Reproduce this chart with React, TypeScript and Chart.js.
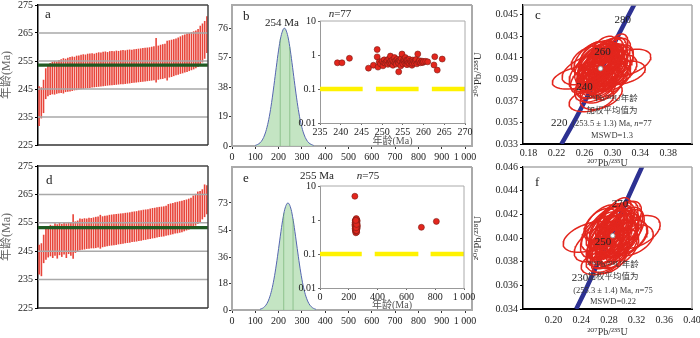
import React, { useEffect, useRef } from 'react';
import { Chart, registerables } from 'chart.js';

Chart.register(...registerables);

const FONT = '"Liberation Serif", "DejaVu Serif", "Noto Sans CJK SC", serif';
Chart.defaults.font.family = FONT;
Chart.defaults.color = '#222';

// ---------------- data ----------------
const ageTicks = [225, 235, 245, 255, 265, 275];
const ageGrid = [235, 245, 255, 265];

const aLow = [231.8, 234.5, 236.4, 241.4, 242.4, 242.9, 243.1, 243.0, 243.3, 243.5, 243.6, 243.4, 243.9, 244.0, 244.1, 244.3, 244.5, 244.6, 244.8, 244.9, 245.0, 245.2, 245.3, 245.4, 245.5, 245.6, 245.7, 245.8, 245.9, 246.0, 246.1, 246.2, 246.3, 246.3, 246.4, 246.5, 246.6, 246.7, 246.7, 246.8, 246.9, 247.0, 247.1, 247.2, 247.3, 247.4, 247.5, 247.6, 247.7, 247.8, 247.9, 248.0, 248.1, 247.3, 248.3, 248.5, 248.6, 248.8, 248.0, 249.1, 249.3, 249.6, 249.9, 250.1, 250.4, 250.6, 250.9, 251.1, 251.4, 251.7, 252.0, 252.4, 252.9, 253.6, 254.5, 255.8, 257.9];
const aHigh = [246.0, 245.6, 248.3, 252.4, 253.8, 254.3, 254.7, 255.0, 254.8, 255.4, 255.6, 256.0, 255.8, 256.2, 256.4, 256.6, 256.5, 256.9, 257.0, 257.2, 257.4, 257.3, 257.6, 257.7, 257.8, 257.6, 257.9, 258.1, 258.0, 258.3, 258.4, 258.2, 258.5, 258.6, 258.5, 258.7, 258.6, 258.8, 258.9, 258.8, 259.0, 259.1, 259.0, 259.2, 259.3, 259.4, 259.5, 259.6, 259.7, 259.8, 259.9, 260.1, 260.3, 263.2, 260.5, 260.8, 261.0, 261.2, 262.2, 262.4, 262.6, 262.8, 263.0, 263.4, 263.8, 264.2, 264.5, 264.8, 265.0, 265.3, 265.6, 265.9, 266.4, 267.6, 268.4, 269.3, 271.0];
const aMean = 253.5;

const dLow = [236.8, 236.2, 240.8, 242.0, 242.8, 243.2, 242.6, 243.4, 242.4, 243.6, 243.0, 243.8, 242.6, 244.0, 243.4, 242.3, 244.4, 244.8, 245.3, 245.5, 245.6, 245.8, 245.9, 246.0, 246.0, 246.1, 246.3, 245.9, 246.4, 246.6, 246.7, 246.9, 247.0, 247.1, 247.2, 247.4, 247.5, 247.6, 247.8, 247.9, 248.0, 248.2, 248.3, 248.4, 248.6, 248.7, 248.9, 249.0, 249.2, 249.3, 249.5, 249.6, 249.8, 250.0, 250.1, 250.2, 250.4, 250.6, 250.8, 251.0, 251.2, 251.3, 251.5, 251.7, 252.0, 252.3, 252.6, 253.0, 253.5, 254.0, 254.6, 255.3, 256.2, 257.0, 258.0];
const dHigh = [247.3, 247.8, 250.8, 252.8, 253.8, 254.3, 254.0, 254.8, 254.5, 255.0, 254.6, 255.2, 254.8, 255.3, 255.0, 258.0, 255.5, 255.8, 256.5, 256.4, 256.6, 256.5, 256.8, 256.7, 256.9, 257.1, 257.2, 257.8, 257.3, 257.5, 257.6, 257.8, 257.9, 258.0, 258.1, 258.2, 258.3, 258.4, 258.5, 258.6, 258.7, 258.9, 259.0, 259.1, 259.3, 259.4, 259.6, 259.7, 259.8, 260.0, 260.2, 260.3, 260.5, 260.6, 260.7, 260.8, 261.0, 261.6, 261.8, 262.0, 262.2, 262.4, 262.6, 262.8, 263.0, 263.2, 263.5, 263.8, 264.6, 265.2, 266.0, 266.2, 266.8, 268.5, 268.2];
const dMean = 253.3;

const distXTicks = [0, 100, 200, 300, 400, 500, 600, 700, 800, 900, 1000];
const bYTicks = [0, 19, 38, 57, 76];
const eYTicks = [0, 18, 36, 54, 73];
const bGaussX = [100, 110, 120, 130, 140, 150, 160, 170, 180, 190, 200, 210, 220, 225, 230, 240, 250, 260, 270, 280, 290, 300, 310, 320, 330, 340, 350];
const bGaussY = [0.4, 1.0, 2.0, 3.9, 7.1, 12.0, 18.9, 28.1, 39.1, 50.8, 61.9, 70.6, 75.4, 76.0, 75.4, 70.6, 61.9, 50.8, 39.1, 28.1, 18.9, 12.0, 7.1, 3.9, 2.0, 1.0, 0.4];
const bInner = [[207, 69], [248, 64]];
const eGaussX = [120, 130, 140, 150, 160, 170, 180, 190, 200, 210, 220, 230, 240, 250, 260, 270, 280, 290, 300, 310, 320, 330, 340, 350, 360];
const eGaussY = [0.5, 1.1, 2.3, 4.4, 8.0, 13.4, 21.0, 30.7, 41.9, 53.4, 63.6, 70.5, 73.0, 70.5, 63.6, 53.4, 41.9, 30.7, 21.0, 13.4, 8.0, 4.4, 2.3, 1.1, 0.5];
const eInner = [[222, 66], [262, 62]];

const logTicks = [0.01, 0.1, 1, 10];
const bInsetXTicks = [235, 240, 245, 250, 255, 260, 265, 270];
const bYellow = [[235, 245.3], [248.5, 258.8], [262.0, 270]];
const bPoints = [
  [239.2, 0.59], [240.3, 0.59], [242.1, 0.80], [246.7, 0.41], [247.9, 0.50], [248.8, 1.45], [248.8, 0.88], [249.0, 0.44], [249.3, 0.62], [249.6, 0.55],
  [250.0, 0.66], [250.2, 0.48], [250.4, 0.60], [250.5, 0.72], [250.7, 0.58], [251.0, 0.63], [251.2, 0.69], [251.4, 0.53], [251.6, 0.76], [251.8, 0.60],
  [251.9, 0.57], [252.0, 0.93], [252.1, 0.66], [252.3, 0.56], [252.5, 0.71], [252.6, 0.50], [252.8, 0.64], [253.0, 0.84], [253.1, 0.59], [253.3, 0.68],
  [253.4, 0.54], [253.6, 0.74], [253.8, 0.62], [253.9, 0.66], [254.0, 0.32], [254.0, 0.57], [254.2, 0.70], [254.4, 0.65], [254.5, 0.48], [254.6, 0.80],
  [254.8, 1.07], [254.9, 0.61], [255.0, 0.55], [255.2, 0.73], [255.3, 0.66], [255.5, 0.58], [255.6, 0.84], [255.8, 0.63], [255.9, 0.71], [256.0, 0.52],
  [256.1, 0.69], [256.3, 0.60], [256.5, 0.75], [256.6, 0.56], [256.8, 0.66], [257.0, 0.61], [257.2, 0.50], [257.3, 0.57], [257.4, 0.71], [257.6, 0.64],
  [257.8, 0.58], [258.0, 0.67], [258.2, 0.74], [258.4, 0.55], [258.6, 1.07], [258.8, 0.62], [259.0, 0.68], [259.3, 0.59], [259.6, 0.66], [259.8, 0.60],
  [260.0, 0.64], [260.5, 0.65], [261.0, 0.63], [262.5, 0.51], [262.7, 0.89], [263.3, 0.36], [264.5, 0.76],
];
const eInsetXTicks = [0, 200, 400, 600, 800, 1000];
const eYellow = [[0, 290], [380, 683], [768, 1000]];
const ePoints = [
  [248, 0.45], [252, 0.47], [246, 0.50], [255, 0.52], [250, 0.55], [244, 0.56], [258, 0.58], [249, 0.60], [253, 0.61], [247, 0.62],
  [256, 0.64], [251, 0.65], [245, 0.66], [254, 0.68], [249, 0.69], [259, 0.70], [252, 0.72], [243, 0.73], [250, 0.74], [255, 0.76],
  [248, 0.77], [253, 0.78], [246, 0.80], [257, 0.81], [251, 0.82], [244, 0.84], [254, 0.85], [249, 0.86], [252, 0.88], [247, 0.89],
  [256, 0.90], [250, 0.92], [253, 0.93], [245, 0.95], [258, 0.96], [251, 0.98], [248, 1.00], [254, 1.02], [250, 1.05], [252, 1.10],
  [249, 0.42], [255, 0.44], [251, 0.48], [246, 0.53], [253, 0.57], [257, 0.63], [244, 0.67], [250, 0.71], [252, 0.79], [248, 0.83],
  [254, 0.87], [247, 0.94], [251, 1.01], [256, 0.58], [249, 0.51], [253, 0.66], [245, 0.75], [250, 0.61], [252, 0.54], [248, 0.70],
  [254, 0.63], [251, 0.76], [247, 0.57], [255, 0.68], [250, 0.82], [253, 0.49], [249, 0.91], [252, 0.64], [246, 0.86], [251, 0.59],
  [254, 0.74], [249, 0.97], [242, 5.0], [704, 0.61], [808, 0.91],
];

const cXTicks = [0.18, 0.22, 0.26, 0.30, 0.34, 0.38];
const cYTicks = [0.033, 0.035, 0.037, 0.039, 0.041, 0.043, 0.045];
const cConcX = [0.2270, 0.2420, 0.2680, 0.2930, 0.3180, 0.3440];
const cConcY = [0.0330, 0.0347, 0.0379, 0.0411, 0.0443, 0.0475];
const cAgeLabels = [[220, 0.2238, 0.03494], [240, 0.2599, 0.03826], [260, 0.2859, 0.04149], [280, 0.3147, 0.04454]];
const cMean = [0.283, 0.0400];
// [centre x, centre y, half-width x, half-height y, correlation]
const cEllipses = [
  [0.252, 0.0392, 0.038, 0.0011, 0.45], [0.262, 0.0399, 0.034, 0.0014, 0.5], [0.270, 0.0371, 0.032, 0.0011, 0.35], [0.284, 0.0375, 0.030, 0.0013, 0.4],
  [0.318, 0.0405, 0.037, 0.0013, 0.45], [0.314, 0.0396, 0.033, 0.0011, 0.35], [0.302, 0.0414, 0.020, 0.0018, 0.6], [0.296, 0.0412, 0.024, 0.0017, 0.5],
  [0.266, 0.0408, 0.025, 0.0013, 0.4], [0.276, 0.0396, 0.022, 0.0017, 0.55], [0.280, 0.0402, 0.025, 0.0019, 0.6], [0.288, 0.0404, 0.022, 0.0016, 0.5],
  [0.285, 0.0398, 0.028, 0.0015, 0.45], [0.292, 0.0401, 0.026, 0.0017, 0.5], [0.278, 0.0405, 0.021, 0.0015, 0.55], [0.290, 0.0395, 0.020, 0.0014, 0.5],
  [0.282, 0.0392, 0.024, 0.0014, 0.5], [0.298, 0.0400, 0.023, 0.0016, 0.55], [0.274, 0.0386, 0.026, 0.0014, 0.45], [0.286, 0.0410, 0.022, 0.0015, 0.5],
  [0.300, 0.0392, 0.026, 0.0013, 0.4], [0.270, 0.0402, 0.020, 0.0016, 0.55], [0.294, 0.0385, 0.022, 0.0014, 0.5], [0.283, 0.0401, 0.018, 0.0020, 0.6],
  [0.306, 0.0406, 0.024, 0.0016, 0.5], [0.262, 0.0390, 0.022, 0.0013, 0.45], [0.279, 0.0380, 0.025, 0.0012, 0.4], [0.288, 0.0418, 0.018, 0.0012, 0.45],
  [0.296, 0.0395, 0.030, 0.0015, 0.5], [0.275, 0.0412, 0.020, 0.0013, 0.4], [0.284, 0.0399, 0.021, 0.0017, 0.55], [0.289, 0.0407, 0.020, 0.0015, 0.5],
  [0.277, 0.0393, 0.019, 0.0016, 0.55], [0.293, 0.0409, 0.021, 0.0014, 0.45], [0.281, 0.0405, 0.024, 0.0018, 0.6], [0.287, 0.0391, 0.023, 0.0015, 0.5],
  [0.272, 0.0397, 0.023, 0.0015, 0.5], [0.298, 0.0407, 0.019, 0.0014, 0.5], [0.280, 0.0400, 0.030, 0.0021, 0.6], [0.290, 0.0403, 0.032, 0.0020, 0.55],
  [0.274, 0.0404, 0.028, 0.0019, 0.55], [0.296, 0.0398, 0.030, 0.0019, 0.5], [0.285, 0.0395, 0.034, 0.0018, 0.5], [0.288, 0.0410, 0.028, 0.0018, 0.55],
  [0.278, 0.0390, 0.030, 0.0017, 0.5], [0.302, 0.0402, 0.028, 0.0018, 0.55], [0.268, 0.0397, 0.030, 0.0018, 0.5], [0.292, 0.0393, 0.026, 0.0019, 0.6],
  [0.283, 0.0407, 0.032, 0.0017, 0.5], [0.276, 0.0384, 0.030, 0.0015, 0.45], [0.300, 0.0411, 0.026, 0.0017, 0.55], [0.286, 0.0401, 0.036, 0.0016, 0.45],
  [0.271, 0.0409, 0.026, 0.0016, 0.5], [0.294, 0.0389, 0.028, 0.0016, 0.5], [0.281, 0.0396, 0.026, 0.0021, 0.6], [0.289, 0.0399, 0.024, 0.0022, 0.65],
  [0.279, 0.0411, 0.027, 0.0015, 0.5], [0.305, 0.0398, 0.030, 0.0015, 0.45],
];

const fXTicks = [0.20, 0.24, 0.28, 0.32, 0.36, 0.40];
const fYTicks = [0.034, 0.036, 0.038, 0.040, 0.042, 0.044, 0.046];
const fConcX = [0.2328, 0.2455, 0.2705, 0.2960, 0.3215, 0.3350];
const fConcY = [0.0340, 0.0355, 0.0387, 0.0419, 0.0452, 0.0469];
const fAgeLabels = [[230, 0.2383, 0.03663], [250, 0.2715, 0.03968], [270, 0.2960, 0.0429]];
const fMean = [0.2855, 0.0402];
const fEllipses = [
  [0.252, 0.0401, 0.038, 0.0013, 0.45], [0.262, 0.0395, 0.032, 0.0015, 0.5], [0.320, 0.0405, 0.034, 0.0014, 0.45], [0.314, 0.0398, 0.030, 0.0013, 0.4],
  [0.268, 0.0379, 0.028, 0.0010, 0.35], [0.280, 0.0382, 0.025, 0.0012, 0.4], [0.292, 0.0420, 0.020, 0.0014, 0.55], [0.300, 0.0416, 0.022, 0.0015, 0.5],
  [0.268, 0.0411, 0.024, 0.0014, 0.45], [0.284, 0.0404, 0.022, 0.0019, 0.6], [0.278, 0.0398, 0.024, 0.0017, 0.55], [0.290, 0.0407, 0.023, 0.0017, 0.55],
  [0.296, 0.0400, 0.025, 0.0016, 0.5], [0.274, 0.0406, 0.022, 0.0016, 0.5], [0.286, 0.0394, 0.024, 0.0015, 0.5], [0.282, 0.0412, 0.021, 0.0015, 0.5],
  [0.300, 0.0404, 0.023, 0.0017, 0.55], [0.272, 0.0392, 0.025, 0.0015, 0.45], [0.288, 0.0388, 0.022, 0.0014, 0.5], [0.305, 0.0410, 0.024, 0.0016, 0.5],
  [0.262, 0.0403, 0.022, 0.0014, 0.45], [0.293, 0.0413, 0.020, 0.0015, 0.55], [0.279, 0.0401, 0.019, 0.0018, 0.6], [0.287, 0.0399, 0.026, 0.0016, 0.5],
  [0.297, 0.0394, 0.024, 0.0014, 0.45], [0.276, 0.0387, 0.023, 0.0013, 0.45], [0.283, 0.0416, 0.020, 0.0013, 0.5], [0.309, 0.0401, 0.026, 0.0014, 0.45],
  [0.270, 0.0398, 0.021, 0.0016, 0.55], [0.291, 0.0402, 0.021, 0.0018, 0.6], [0.285, 0.0408, 0.022, 0.0016, 0.55], [0.281, 0.0395, 0.020, 0.0016, 0.55],
  [0.282, 0.0403, 0.030, 0.0021, 0.6], [0.291, 0.0405, 0.032, 0.0020, 0.55], [0.275, 0.0408, 0.028, 0.0018, 0.55], [0.297, 0.0402, 0.030, 0.0019, 0.5],
  [0.286, 0.0397, 0.034, 0.0018, 0.5], [0.289, 0.0413, 0.028, 0.0017, 0.55], [0.279, 0.0392, 0.030, 0.0017, 0.5], [0.303, 0.0406, 0.028, 0.0018, 0.55],
  [0.269, 0.0401, 0.030, 0.0018, 0.5], [0.293, 0.0396, 0.026, 0.0019, 0.6], [0.284, 0.0410, 0.032, 0.0017, 0.5], [0.277, 0.0386, 0.030, 0.0015, 0.45],
  [0.301, 0.0414, 0.026, 0.0017, 0.55], [0.287, 0.0404, 0.036, 0.0016, 0.45], [0.272, 0.0413, 0.026, 0.0015, 0.5], [0.295, 0.0391, 0.028, 0.0016, 0.5],
  [0.282, 0.0399, 0.026, 0.0021, 0.6], [0.290, 0.0401, 0.024, 0.0022, 0.65], [0.306, 0.0400, 0.030, 0.0015, 0.45],
];

// ---------------- helpers ----------------
type Part = { t: string; i?: boolean };
type Label = { x: number; y: number; parts: Part[]; size: number; color?: string; align?: 'left' | 'center' };

function drawLabel(ctx: CanvasRenderingContext2D, L: Label) {
  const f = (p: Part) => `${p.i ? 'italic ' : ''}${L.size}px ${FONT}`;
  ctx.textBaseline = 'middle';
  ctx.textAlign = 'left';
  let w = 0;
  for (const p of L.parts) { ctx.font = f(p); w += ctx.measureText(p.t).width; }
  let x = L.align === 'center' ? L.x - w / 2 : L.x;
  for (const p of L.parts) {
    ctx.font = f(p);
    ctx.fillStyle = L.color || '#222';
    ctx.fillText(p.t, x, L.y);
    x += ctx.measureText(p.t).width;
  }
}

const textPlugin = (labels: Label[]) => ({
  id: 'texts',
  afterDraw(chart: any) {
    const ctx = chart.ctx;
    ctx.save();
    labels.forEach((L) => drawLabel(ctx, L));
    ctx.restore();
  },
});

const framePlugin = (sides: { top?: string; right?: string; bottom?: string }, lw: number) => ({
  id: 'frame',
  afterDatasetsDraw(chart: any) {
    const { ctx, chartArea: a } = chart;
    ctx.save();
    ctx.lineWidth = lw;
    const seg = (c: string, x1: number, y1: number, x2: number, y2: number) => {
      ctx.strokeStyle = c; ctx.beginPath(); ctx.moveTo(x1, y1); ctx.lineTo(x2, y2); ctx.stroke();
    };
    if (sides.top) seg(sides.top, a.left, a.top, a.right, a.top);
    if (sides.right) seg(sides.right, a.right, a.top, a.right, a.bottom);
    if (sides.bottom) seg(sides.bottom, a.left, a.bottom, a.right, a.bottom);
    ctx.restore();
  },
});

const whiteAreaPlugin = {
  id: 'whiteArea',
  beforeDraw(chart: any) {
    const { ctx, chartArea: a } = chart;
    ctx.save(); ctx.fillStyle = '#fff'; ctx.fillRect(a.left, a.top, a.right - a.left, a.bottom - a.top); ctx.restore();
  },
};

const ageLinesPlugin = (mean: number) => ({
  id: 'ageLines',
  afterDatasetsDraw(chart: any) {
    const { ctx, chartArea: a, scales } = chart;
    ctx.save();
    ctx.strokeStyle = '#a9a9a9'; ctx.lineWidth = 1.5;
    ageGrid.forEach((v) => {
      const y = scales.y.getPixelForValue(v);
      ctx.beginPath(); ctx.moveTo(a.left, y); ctx.lineTo(a.right, y); ctx.stroke();
    });
    const ym = scales.y.getPixelForValue(mean);
    ctx.strokeStyle = '#1f5a22'; ctx.lineWidth = 3.2;
    ctx.beginPath(); ctx.moveTo(a.left, ym); ctx.lineTo(a.right, ym); ctx.stroke();
    ctx.restore();
  },
});

const ageLabelPlugin = (items: number[][]) => ({
  id: 'ageLabels',
  afterDatasetsDraw(chart: any) {
    const { ctx, scales } = chart;
    ctx.save();
    items.forEach(([age, x, y]) => {
      drawLabel(ctx, { x: scales.x.getPixelForValue(x), y: scales.y.getPixelForValue(y), parts: [{ t: String(age) }], size: 11, align: 'center', color: '#222' });
    });
    ctx.restore();
  },
});

const fixTicks = (vals: number[]) => (s: any) => { s.ticks = vals.map((v) => ({ value: v })); };
const fixW = (w: number) => (s: any) => { s.width = w; s.paddingTop = 0; s.paddingBottom = 0; s.paddingLeft = 0; s.paddingRight = 0; };
const fixH = (h: number) => (s: any) => { s.height = h; s.paddingTop = 0; s.paddingBottom = 0; s.paddingLeft = 0; s.paddingRight = 0; };

const baseOptions = (padding: any) => ({
  animation: false,
  responsive: false,
  maintainAspectRatio: false,
  devicePixelRatio: 1,
  events: [],
  layout: { padding },
  plugins: { legend: { display: false }, tooltip: { enabled: false }, title: { display: false } },
});

const tickFont = { size: 10 };

// ---------------- chart configs ----------------
function barConfig(low: number[], high: number[], mean: number, padTop: number, padBottom: number, letter: Label) {
  return {
    type: 'bar',
    data: {
      labels: low.map((_, i) => String(i + 1)),
      datasets: [{ data: low.map((v, i) => [v, high[i]]), backgroundColor: '#e8453a', barPercentage: 0.72, categoryPercentage: 1 }],
    },
    options: {
      ...baseOptions({ top: padTop, right: 4, bottom: padBottom, left: 0 }),
      scales: {
        x: { display: false },
        y: {
          min: 225, max: 275,
          afterBuildTicks: fixTicks(ageTicks),
          afterFit: fixW(38),
          ticks: { font: tickFont, color: '#222', padding: 2 },
          grid: { drawOnChartArea: false, tickLength: 3, color: '#000', lineWidth: 1 },
          border: { color: '#000', width: 1.5 },
          title: { display: true, text: '年龄(Ma)', font: { size: 12 }, color: '#666', padding: { top: 0, bottom: 0 } },
        },
      },
    },
    plugins: [ageLinesPlugin(mean), framePlugin({ top: '#444', right: '#444', bottom: '#333' }, 1.5), textPlugin([letter])],
  };
}

function distConfig(gx: number[], gy: number[], inner: number[][], yTicks: number[], ymax: number, padTop: number, xH: number, labels: Label[]) {
  return {
    type: 'line',
    data: {
      datasets: [
        ...inner.map(([x, h]) => ({ data: [{ x, y: 0 }, { x, y: h }], borderColor: 'rgba(100,165,100,0.55)', borderWidth: 1, pointRadius: 0, order: 0 })),
        {
          data: gx.map((x, i) => ({ x, y: gy[i] })),
          borderColor: '#5565b0', borderWidth: 1, backgroundColor: 'rgba(190,226,188,0.9)', fill: 'origin', tension: 0.4, pointRadius: 0, order: 5,
        },
      ],
    },
    options: {
      ...baseOptions({ top: padTop, right: 8, bottom: 0, left: 0 }),
      scales: {
        x: {
          type: 'linear', min: 0, max: 1030,
          afterBuildTicks: fixTicks(distXTicks),
          afterFit: fixH(xH),
          ticks: { font: tickFont, color: '#222', padding: 2, maxRotation: 0, autoSkip: false, callback: (v: number) => (v === 1000 ? '1 000' : String(v)) },
          grid: { drawOnChartArea: false, tickLength: 3, color: '#333' },
          border: { color: '#aaa', width: 2 },
        },
        y: {
          min: 0, max: ymax,
          afterBuildTicks: fixTicks(yTicks),
          afterFit: fixW(20),
          ticks: { font: tickFont, color: '#222', padding: 1 },
          grid: { drawOnChartArea: false, tickLength: 3, color: '#333' },
          border: { color: '#aaa', width: 2 },
        },
      },
    },
    plugins: [framePlugin({ top: '#aaa', right: '#aaa' }, 2), textPlugin(labels)],
  };
}

function insetConfig(points: number[][], yellow: number[][], xmin: number, xmax: number, xTicks: number[], padTop: number, padRight: number, titlePad: number, labels: Label[]) {
  return {
    type: 'line',
    data: {
      datasets: [
        {
          data: points.map(([x, y]) => ({ x, y })), showLine: false, pointRadius: 3,
          pointBackgroundColor: '#e3261d', pointBorderColor: '#7a1c16', pointBorderWidth: 0.6, order: 0,
        },
        ...yellow.map(([a, b]) => ({ data: [{ x: a, y: 0.1 }, { x: b, y: 0.1 }], borderColor: '#fff200', borderWidth: 4.5, pointRadius: 0, order: 5 })),
      ],
    },
    options: {
      ...baseOptions({ top: padTop, right: padRight, bottom: 0, left: 0 }),
      scales: {
        x: {
          type: 'linear', min: xmin, max: xmax,
          afterBuildTicks: fixTicks(xTicks),
          afterFit: fixH(27),
          ticks: { font: tickFont, color: '#222', padding: 1, maxRotation: 0, autoSkip: false, callback: (v: number) => (v === 1000 ? '1 000' : String(v)) },
          grid: { drawOnChartArea: false, tickLength: 2, color: '#666' },
          border: { color: '#999', width: 1 },
          title: { display: true, text: '年龄(Ma)', font: { size: 10 }, color: '#555', padding: { top: 0, bottom: titlePad } },
        },
        y: {
          type: 'logarithmic', min: 0.01, max: 10,
          afterBuildTicks: fixTicks(logTicks),
          afterFit: fixW(35),
          ticks: { font: tickFont, color: '#222', padding: 2, callback: (v: number) => String(v) },
          grid: { drawOnChartArea: false, tickLength: 2, color: '#666' },
          border: { color: '#999', width: 1 },
        },
      },
    },
    plugins: [whiteAreaPlugin, framePlugin({ top: '#aaa', right: '#aaa' }, 1), textPlugin(labels)],
  };
}

function ellipseDatasets(list: number[][]) {
  return list.map(([cx, cy, sx, sy, r]) => {
    const q = Math.sqrt(1 - r * r);
    const pts: { x: number; y: number }[] = [];
    for (let k = 0; k <= 64; k++) {
      const t = (k / 64) * Math.PI * 2;
      pts.push({ x: cx + sx * Math.cos(t), y: cy + sy * (r * Math.cos(t) + q * Math.sin(t)) });
    }
    return { data: pts, borderColor: '#e3261d', borderWidth: 1.5, pointRadius: 0, tension: 0, fill: false, order: 5 };
  });
}

function concordiaConfig(
  ellipses: number[][], concX: number[], concY: number[], mean: number[], ages: number[][],
  xmin: number, xmax: number, xTicks: number[], ymin: number, ymax: number, yTicks: number[],
  padTop: number, xH: number, tickPad: number, titlePad: number, labels: Label[],
) {
  return {
    type: 'line',
    data: {
      datasets: [
        { data: [{ x: mean[0], y: mean[1] }], showLine: false, pointRadius: 2.2, pointBackgroundColor: '#fff', pointBorderColor: '#999', pointBorderWidth: 1, order: 0 },
        ...ellipseDatasets(ellipses),
        { data: concX.map((x, i) => ({ x, y: concY[i] })), borderColor: '#2d3192', borderWidth: 4.5, pointRadius: 0, tension: 0.3, order: 10 },
      ],
    },
    options: {
      ...baseOptions({ top: padTop, right: 8, bottom: 0, left: 0 }),
      scales: {
        x: {
          type: 'linear', min: xmin, max: xmax,
          afterBuildTicks: fixTicks(xTicks),
          afterFit: fixH(xH),
          ticks: { font: tickFont, color: '#222', padding: tickPad, maxRotation: 0, autoSkip: false, callback: (v: number) => Number(v).toFixed(2) },
          grid: { display: false, drawTicks: false, tickLength: 0 },
          border: { display: true, color: '#000', width: 2, dash: [2.5, 10.2] },
          title: { display: true, text: '²⁰⁷Pb/²³⁵U', font: { size: 10 }, color: '#333', padding: { top: 0, bottom: titlePad } },
        },
        y: {
          min: ymin, max: ymax,
          afterBuildTicks: fixTicks(yTicks),
          afterFit: fixW(53),
          ticks: { font: tickFont, color: '#222', padding: 2, callback: (v: number) => Number(v).toFixed(3) },
          grid: { drawOnChartArea: false, tickLength: 3, color: '#000' },
          border: { color: '#000', width: 1.5 },
          title: { display: true, text: '²⁰⁶Pb/²³⁸U', font: { size: 11 }, color: '#333', padding: { top: 1.5, bottom: 0 } },
        },
      },
    },
    plugins: [framePlugin({ top: '#aaa', right: '#aaa' }, 1.5), ageLabelPlugin(ages), textPlugin(labels)],
  };
}

// ---------------- components ----------------
function ChartBox({ box, make }: { box: number[]; make: () => any }) {
  const ref = useRef<HTMLCanvasElement | null>(null);
  useEffect(() => {
    if (!ref.current) return;
    const chart = new Chart(ref.current, make());
    return () => chart.destroy();
  }, []);
  const [left, top, width, height] = box;
  return <canvas ref={ref} width={width} height={height} style={{ position: 'absolute', left, top, width, height }} />;
}

const L = (x: number, y: number, t: string, size = 13, align: 'left' | 'center' = 'left', color = '#222'): Label => ({ x, y, parts: [{ t }], size, align, color });
const nLabel = (x: number, y: number, n: string): Label => ({ x, y, parts: [{ t: 'n', i: true }, { t: '=' + n }], size: 11, align: 'center', color: '#222' });
const ann = (x: number, ys: number[], age: string, n: string, mswd: string): Label[] => [
  { x, y: ys[0], parts: [{ t: '²⁰⁶Pb/²³⁸U年龄' }], size: 8.5, align: 'center', color: '#3a3a3a' },
  { x, y: ys[1], parts: [{ t: '加权平均值为' }], size: 8.5, align: 'center', color: '#3a3a3a' },
  { x, y: ys[2], parts: [{ t: `(${age}) Ma, ` }, { t: 'n', i: true }, { t: '=' + n }], size: 8.5, align: 'center', color: '#3a3a3a' },
  { x, y: ys[3], parts: [{ t: 'MSWD=' + mswd }], size: 8.5, align: 'center', color: '#3a3a3a' },
];

export default function App() {
  return (
    <div style={{ position: 'fixed', left: 0, top: 0, width: 700, height: 338, background: '#fff', overflow: 'hidden' }}>
      <ChartBox box={[0, 0, 212, 160]} make={() => barConfig(aLow, aHigh, aMean, 5, 15, L(45, 15, 'a'))} />
      <ChartBox box={[0, 158, 212, 165]} make={() => barConfig(dLow, dHigh, dMean, 8, 15, L(46, 23, 'd'))} />
      <ChartBox box={[212, 0, 268, 168]} make={() => distConfig(bGaussX, bGaussY, bInner, bYTicks, 91, 5, 22, [L(31, 17, 'b'), L(70, 23, '254 Ma', 11, 'center')])} />
      <ChartBox box={[212, 158, 268, 175]} make={() => distConfig(eGaussX, eGaussY, eInner, eYTicks, 97.5, 9, 23, [L(31, 21, 'e')])} />
      <ChartBox box={[285, 0, 190, 150]} make={() => insetConfig(bPoints, bYellow, 235, 270, bInsetXTicks, 21, 10, 3, [nLabel(55, 14, '77')])} />
      <ChartBox box={[285, 165, 190, 150]} make={() => insetConfig(ePoints, eYellow, 0, 1000, eInsetXTicks, 21, 11, 4, [L(32, 11, '255 Ma', 11, 'center'), nLabel(83, 11, '75')])} />
      <ChartBox box={[470, 0, 230, 170]} make={() => concordiaConfig(cEllipses, cConcX, cConcY, cMean, cAgeLabels, 0.172, 0.414, cXTicks, 0.033, 0.0459, cYTicks, 5, 26, 3, 1, [L(65, 16, 'c'), ...ann(142, [99, 111, 124, 136], '253.5 ± 1.3', '77', '1.3')])} />
      <ChartBox box={[470, 160, 230, 178]} make={() => concordiaConfig(fEllipses, fConcX, fConcY, fMean, fAgeLabels, 0.156, 0.40, fXTicks, 0.034, 0.046, fYTicks, 7, 29, 5, 0, [L(65, 23, 'f'), ...ann(143, [105, 117, 131, 142], '255.3 ± 1.4', '75', '0.22')])} />
    </div>
  );
}
